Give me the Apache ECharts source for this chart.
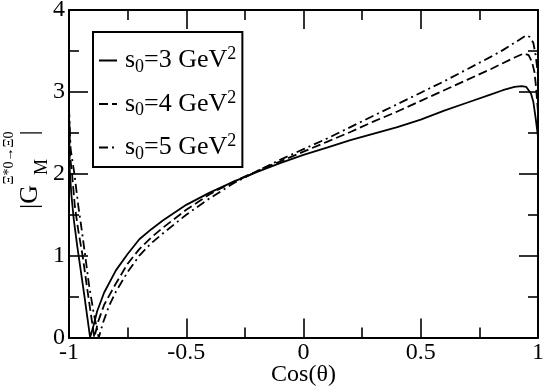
<!DOCTYPE html>
<html>
<head>
<meta charset="utf-8">
<script src="https://cdn.jsdelivr.net/npm/echarts@6/dist/echarts.min.js"></script>
<style>
html,body{margin:0;padding:0;background:#fff;}
#main{width:545px;height:389px;}
</style>
</head>
<body>
<div id="main"></div>
<script>
// Data
var seriesNames = ['s0=3 GeV2', 's0=4 GeV2', 's0=5 GeV2'];
var legendLabels = ['3', '4', '5'];
var xTicks = [-1, -0.5, 0, 0.5, 1];
var yTicks = [0, 1, 2, 3, 4];

var cos3 = [-1, -0.997, -0.99, -0.98, -0.965, -0.95, -0.935, -0.92, -0.91, -0.895, -0.88, -0.85, -0.8, -0.75, -0.7, -0.65, -0.6, -0.5, -0.4, -0.3, -0.2, -0.1, 0, 0.1, 0.2, 0.3, 0.4, 0.5, 0.6, 0.7, 0.8, 0.85, 0.9, 0.93, 0.95, 0.97, 0.98, 0.99, 1];
var g3   = [2.8, 2.05, 1.75, 1.45, 1.12, 0.82, 0.52, 0.21, 0.0, 0.15, 0.32, 0.55, 0.82, 1.02, 1.2, 1.32, 1.43, 1.62, 1.77, 1.9, 2.02, 2.13, 2.23, 2.32, 2.41, 2.49, 2.57, 2.66, 2.77, 2.87, 2.97, 3.02, 3.06, 3.07, 3.06, 2.98, 2.88, 2.68, 2.45];

var cos4 = [-1, -0.995, -0.987, -0.975, -0.96, -0.942, -0.925, -0.91, -0.892, -0.875, -0.85, -0.8, -0.75, -0.7, -0.65, -0.6, -0.5, -0.4, -0.3, -0.2, -0.1, 0, 0.1, 0.2, 0.3, 0.4, 0.5, 0.6, 0.7, 0.8, 0.85, 0.9, 0.94, 0.96, 0.975, 0.985, 0.992, 1];
var g4   = [2.8, 2.2, 2.0, 1.6, 1.3, 1.0, 0.65, 0.35, 0.0, 0.2, 0.4, 0.66, 0.9, 1.08, 1.22, 1.34, 1.56, 1.75, 1.9, 2.03, 2.15, 2.27, 2.39, 2.51, 2.64, 2.76, 2.89, 3.02, 3.15, 3.28, 3.35, 3.42, 3.47, 3.45, 3.36, 3.24, 3.05, 2.75];

var cos5 = [-1, -0.993, -0.977, -0.96, -0.945, -0.931, -0.915, -0.895, -0.873, -0.855, -0.83, -0.8, -0.75, -0.7, -0.65, -0.6, -0.5, -0.4, -0.3, -0.2, -0.1, 0, 0.1, 0.2, 0.3, 0.4, 0.5, 0.6, 0.7, 0.8, 0.85, 0.9, 0.95, 0.965, 0.98, 0.99, 1];
var g5   = [2.8, 2.3, 2.0, 1.6, 1.3, 1.0, 0.65, 0.3, 0.0, 0.18, 0.38, 0.56, 0.8, 1.0, 1.15, 1.27, 1.5, 1.7, 1.88, 2.03, 2.17, 2.3, 2.43, 2.57, 2.71, 2.85, 2.99, 3.13, 3.28, 3.43, 3.51, 3.6, 3.69, 3.67, 3.6, 3.45, 3.2];

function pairs(xs, ys) { return xs.map(function (x, i) { return [x, ys[i]]; }); }

var FONT = '"Liberation Serif","DejaVu Serif",serif';
var chart = echarts.init(document.getElementById('main'), null, {renderer: 'canvas'});

function axisCommon(showLabels) {
  return {
    axisLine: {show: true, onZero: false, lineStyle: {color: '#000', width: 2}},
    axisTick: {show: true, inside: true, length: 19, lineStyle: {color: '#000', width: 1.6}},
    minorTick: {show: true, splitNumber: 2, length: 10, lineStyle: {color: '#000', width: 1.6}},
    splitLine: {show: false},
    axisLabel: {show: showLabels, color: '#000', fontFamily: FONT, fontSize: 24}
  };
}

var x0 = Object.assign(axisCommon(true), {
  type: 'value', position: 'bottom', min: -1, max: 1, interval: 0.5,
  name: 'Cos(θ)', nameLocation: 'middle', nameGap: 25, nameMoveOverlap: false,
  nameTextStyle: {color: '#000', fontFamily: FONT, fontSize: 24}
});
x0.axisLabel.margin = 3;
x0.axisLabel.formatter = function (v) { return String(v); };
var x1 = Object.assign(axisCommon(false), {type: 'value', position: 'top', min: -1, max: 1, interval: 0.5});
var y0 = Object.assign(axisCommon(true), {type: 'value', position: 'left', min: 0, max: 4, interval: 1});
y0.axisLabel.margin = 4;
var y1 = Object.assign(axisCommon(false), {type: 'value', position: 'right', min: 0, max: 4, interval: 1});

var styles = [
  {type: 'solid'},
  {type: [9, 4]},
  {type: [9, 4, 2, 4]}
];
var datas = [pairs(cos3, g3), pairs(cos4, g4), pairs(cos5, g5)];

var series = seriesNames.map(function (n, i) {
  return {
    name: n, type: 'line', xAxisIndex: 0, yAxisIndex: 0,
    data: datas[i], symbol: 'none', showSymbol: false, smooth: false,
    lineStyle: {color: '#000', width: 1.8, type: styles[i].type},
    itemStyle: {color: '#000'},
    emphasis: {disabled: true}, animation: false
  };
});

var rich = {
  sp: {width: 3, lineHeight: 30},
  t: {fontFamily: FONT, fontSize: 26, color: '#000', lineHeight: 30},
  sub: {fontFamily: FONT, fontSize: 18, color: '#000', lineHeight: 30, padding: [13, 0, 0, 0]},
  sup: {fontFamily: FONT, fontSize: 18, color: '#000', lineHeight: 30, padding: [0, 0, 12, 0]}
};

chart.setOption({
  animation: false,
  backgroundColor: '#fff',
  grid: {left: 69, right: 7, top: 10, bottom: 51.5, containLabel: false, outerBoundsMode: 'none'},
  xAxis: [x0, x1],
  yAxis: [y0, y1],
  legend: {
    show: true, orient: 'vertical', left: 93, top: 32,
    data: seriesNames,
    itemWidth: 18, itemHeight: 14, itemGap: 12.5,
    padding: [13, 6, 4, 5],
    borderColor: '#000', borderWidth: 2, backgroundColor: '#fff',
    selectedMode: false,
    itemStyle: {opacity: 0},
    formatter: function (name) {
      var k = seriesNames.indexOf(name);
      return '{sp|}{t|s}{sub|0}{t|=' + legendLabels[k] + ' GeV}{sup|2}';
    },
    textStyle: {color: '#000', fontFamily: FONT, fontSize: 26, rich: rich}
  },
  graphic: [
    {type: 'text', x: 30, y: 197, rotation: Math.PI / 2, silent: true,
     style: {text: '|G', font: '26px ' + FONT, fill: '#000', align: 'center', verticalAlign: 'middle'}},
    {type: 'text', x: 42, y: 167, rotation: Math.PI / 2, silent: true,
     style: {text: 'M', font: '18px ' + FONT, fill: '#000', align: 'center', verticalAlign: 'middle'}},
    {type: 'text', x: 9, y: 158, rotation: Math.PI / 2, silent: true,
     style: {text: 'Ξ*0→Ξ0', font: '14px ' + FONT, fill: '#000', align: 'center', verticalAlign: 'middle'}},
    {type: 'text', x: 30, y: 133, rotation: Math.PI / 2, silent: true,
     style: {text: '|', font: '26px ' + FONT, fill: '#000', align: 'center', verticalAlign: 'middle'}}
  ],
  series: series
});
</script>
</body>
</html>
